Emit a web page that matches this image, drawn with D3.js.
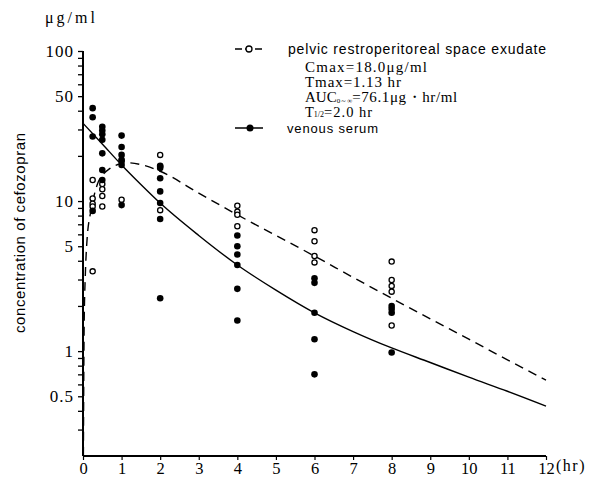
<!DOCTYPE html>
<html><head><meta charset="utf-8">
<script src="https://cdn.jsdelivr.net/npm/d3@7"></script>
<style>body{margin:0;background:#fff}svg{display:block}</style>
</head><body>
<svg id="c" width="594" height="485"></svg>
<script>
// ---- data ----
const sampleTimes = [0.25, 0.5, 1, 2, 4, 6, 8];
const exudateValues = [
  [13.8, 10.4, 9.6, 9.2, 3.4],
  [13.0, 12.0, 10.8, 9.2],
  [18.5, 10.2],
  [20.3, 17.0, 8.7],
  [9.3, 8.5, 8.1, 6.8],
  [6.4, 5.4, 4.3, 3.9],
  [3.95, 2.98, 2.72, 2.49, 1.48]
];
const serumValues = [
  [41.6, 36.2, 26.9, 8.6],
  [31.3, 29.5, 27.9, 25.6, 20.8, 16.1, 13.8],
  [27.3, 22.9, 20.3, 18.8, 17.4, 9.4],
  [17.2, 16.6, 14.2, 11.6, 9.7, 7.6, 2.25],
  [5.9, 5.0, 4.4, 3.75, 2.6, 1.6],
  [3.06, 2.85, 1.8, 1.2, 0.70],
  [2.0, 1.91, 1.8, 0.98]
];
const exudateCurveT = [0.01, 0.03, 0.06, 0.1, 0.2, 0.3, 0.4, 0.5, 0.7, 1.0, 1.13, 1.5, 2, 3, 4, 5, 6, 7, 8, 9, 10, 11, 12];
const exudateCurveV = [0.2, 1.5, 3.2, 5.3, 8.5, 11.2, 13.5, 14.8, 16.5, 17.8, 18.0, 17.5, 15.8, 11.3, 8.1, 5.9, 4.3, 3.1, 2.25, 1.64, 1.2, 0.875, 0.64];
const serumCurveT = [0, 0.5, 1, 1.5, 2, 3, 4, 5, 6, 7, 8, 9, 10, 11, 12];
const serumCurveV = [33, 24, 17.4, 12.9, 9.7, 5.9, 3.75, 2.55, 1.8, 1.35, 1.05, 0.84, 0.67, 0.54, 0.43];
const xTicks = [0,1,2,3,4,5,6,7,8,9,10,11,12];
const yTicks = [0.3,0.4,0.5,0.6,0.7,0.8,0.9,1,2,3,4,5,6,7,8,9,10,20,30,40,50,60,70,80,90,100];
const yLabels = [0.5, 1, 5, 10, 50, 100];

// ---- chart ----
const svg = d3.select("#c");
const x = d3.scaleLinear().domain([0, 12]).range([83, 546]);
const y = d3.scaleLog().domain([0.2, 100]).range([456, 51]);
const serif = "'Liberation Serif', 'DejaVu Serif', serif";
const sans = "'Liberation Sans', Arial, sans-serif";

// axes
const yAxis = d3.axisLeft(y).tickValues(yTicks).tickSize(5).tickPadding(4)
  .tickFormat(d => yLabels.includes(d) ? String(d) : "");
const gy = svg.append("g").attr("transform", "translate(83,0)").call(yAxis);
gy.select(".domain").attr("d", "M0," + y(100) + "V" + y(0.2)).attr("stroke-width", 2);
gy.selectAll(".tick line").attr("stroke-width", 1.3);
gy.selectAll("text").attr("font-family", serif).attr("font-size", 17).attr("letter-spacing", 1).attr("fill", "#000");

const xAxis = d3.axisBottom(x).tickValues(xTicks).tickSize(4).tickPadding(2).tickFormat(d3.format("d"));
const gx = svg.append("g").attr("transform", "translate(0,456)").call(xAxis);
gx.select(".domain").attr("d", "M" + x(0) + ",0H" + x(12)).attr("stroke-width", 2);
gx.selectAll(".tick line").attr("stroke-width", 1.2);
gx.selectAll("text").attr("font-family", serif).attr("font-size", 16.5).attr("fill", "#000");

svg.append("text").attr("x", 556).attr("y", 471).attr("font-family", serif).attr("font-size", 16)
  .attr("letter-spacing", 1.5).text("(hr)");
svg.append("text").attr("x", 45).attr("y", 23).attr("font-family", serif).attr("font-size", 16)
  .attr("textLength", 50).attr("lengthAdjust", "spacing").text("μg/ml");
svg.append("text").attr("transform", "translate(25,233) rotate(-90)").attr("text-anchor", "middle")
  .attr("font-family", sans).attr("font-size", 15).attr("textLength", 200).attr("lengthAdjust", "spacing")
  .text("concentration of cefozopran");

// curves
const line = d3.line().x(d => x(d[0])).y(d => y(d[1])).curve(d3.curveMonotoneX);
svg.append("path").datum(exudateCurveT.map((t, i) => [t, exudateCurveV[i]]))
  .attr("d", line).attr("fill", "none").attr("stroke", "#000").attr("stroke-width", 1.4).attr("stroke-dasharray", "9,6");
svg.append("path").datum(serumCurveT.map((t, i) => [t, serumCurveV[i]]))
  .attr("d", line).attr("fill", "none").attr("stroke", "#000").attr("stroke-width", 1.4);

// points
const exPts = [], sePts = [];
sampleTimes.forEach((t, i) => {
  exudateValues[i].forEach(v => exPts.push([t, v]));
  serumValues[i].forEach(v => sePts.push([t, v]));
});
svg.append("g").selectAll("circle").data(exPts).join("circle")
  .attr("cx", d => x(d[0])).attr("cy", d => y(d[1])).attr("r", 2.6)
  .attr("fill", "#fff").attr("stroke", "#000").attr("stroke-width", 1.3);
svg.append("g").selectAll("circle").data(sePts).join("circle")
  .attr("cx", d => x(d[0])).attr("cy", d => y(d[1])).attr("r", 3.3).attr("fill", "#000");

// legend
const lg = svg.append("g");
lg.append("line").attr("x1", 235).attr("x2", 263).attr("y1", 49).attr("y2", 49)
  .attr("stroke", "#000").attr("stroke-width", 1.4).attr("stroke-dasharray", "7,3");
lg.append("circle").attr("cx", 249).attr("cy", 49).attr("r", 3).attr("fill", "#fff").attr("stroke", "#000").attr("stroke-width", 1.3);
lg.append("text").attr("x", 288).attr("y", 54).attr("font-family", sans).attr("font-size", 14)
  .attr("textLength", 258).attr("lengthAdjust", "spacing").text("pelvic restroperitoreal space exudate");
lg.append("text").attr("x", 305).attr("y", 72).attr("font-family", serif).attr("font-size", 15)
  .attr("textLength", 122).attr("lengthAdjust", "spacing").text("Cmax=18.0μg/ml");
lg.append("text").attr("x", 305).attr("y", 87).attr("font-family", serif).attr("font-size", 15)
  .attr("textLength", 96).attr("lengthAdjust", "spacing").text("Tmax=1.13 hr");
const auc = lg.append("text").attr("x", 305).attr("y", 102).attr("font-family", serif).attr("font-size", 15);
auc.append("tspan").text("AUC");
auc.append("tspan").attr("font-size", 7).attr("dy", 1).text("0～∞");
auc.append("tspan").attr("dy", -1).attr("letter-spacing", 0.6).text("=76.1μg・hr/ml");
const th = lg.append("text").attr("x", 305).attr("y", 116.5).attr("font-family", serif).attr("font-size", 14.5);
th.append("tspan").text("T");
th.append("tspan").attr("font-size", 8).attr("dy", 0.5).text("1/2");
th.append("tspan").attr("dy", -0.5).attr("letter-spacing", 1).text("=2.0 hr");
lg.append("line").attr("x1", 235).attr("x2", 263).attr("y1", 128).attr("y2", 128).attr("stroke", "#000").attr("stroke-width", 1.5);
lg.append("circle").attr("cx", 250).attr("cy", 128).attr("r", 3.5).attr("fill", "#000");
lg.append("text").attr("x", 287).attr("y", 132.5).attr("font-family", sans).attr("font-size", 13)
  .attr("textLength", 91).attr("lengthAdjust", "spacing").text("venous serum");
</script>
</body></html>
